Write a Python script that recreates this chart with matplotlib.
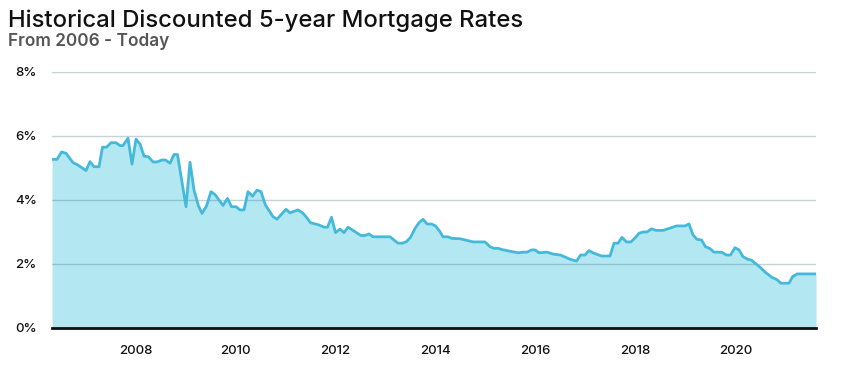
import matplotlib.pyplot as plt
from matplotlib.ticker import FixedLocator

# Discounted 5-year mortgage rate (decimal year, %)
dates = [2006.33, 2006.43, 2006.52, 2006.61, 2006.75, 2006.85, 2007.01, 2007.09,
         2007.17, 2007.27, 2007.34, 2007.42, 2007.51, 2007.61, 2007.69, 2007.75,
         2007.85, 2007.93, 2008.01, 2008.09, 2008.17, 2008.26, 2008.35, 2008.43,
         2008.53, 2008.60, 2008.69, 2008.77, 2008.84, 2009.01, 2009.09, 2009.17,
         2009.26, 2009.33, 2009.42, 2009.51, 2009.59, 2009.75, 2009.84, 2009.92,
         2010.01, 2010.09, 2010.17, 2010.25, 2010.34, 2010.43, 2010.51, 2010.60,
         2010.75, 2010.83, 2011.01, 2011.09, 2011.25, 2011.34, 2011.42, 2011.50,
         2011.67, 2011.77, 2011.84, 2011.92, 2012.00, 2012.09, 2012.17, 2012.25,
         2012.34, 2012.51, 2012.59, 2012.67, 2012.75, 2013.09, 2013.25, 2013.34,
         2013.42, 2013.50, 2013.59, 2013.67, 2013.75, 2013.83, 2013.92, 2014.00,
         2014.09, 2014.15, 2014.25, 2014.33, 2014.49, 2014.65, 2014.75, 2014.99,
         2015.09, 2015.17, 2015.25, 2015.33, 2015.49, 2015.65, 2015.75, 2015.83,
         2015.92, 2015.99, 2016.07, 2016.23, 2016.35, 2016.50, 2016.69, 2016.82,
         2016.90, 2016.99, 2017.07, 2017.15, 2017.32, 2017.49, 2017.57, 2017.65,
         2017.73, 2017.82, 2017.91, 2018.00, 2018.07, 2018.15, 2018.23, 2018.32,
         2018.41, 2018.55, 2018.65, 2018.82, 2018.99, 2019.07, 2019.15, 2019.23,
         2019.32, 2019.40, 2019.49, 2019.57, 2019.72, 2019.82, 2019.90, 2019.99,
         2020.07, 2020.15, 2020.24, 2020.32, 2020.49, 2020.59, 2020.73, 2020.82,
         2020.91, 2021.07, 2021.14, 2021.23, 2021.61]
rates = [5.27, 5.27, 5.50, 5.46, 5.17, 5.09, 4.92, 5.20,
         5.04, 5.04, 5.65, 5.65, 5.79, 5.79, 5.70, 5.70,
         5.93, 5.12, 5.90, 5.75, 5.37, 5.35, 5.19, 5.19,
         5.25, 5.25, 5.15, 5.42, 5.42, 3.79, 5.18, 4.31,
         3.81, 3.58, 3.81, 4.26, 4.17, 3.83, 4.05, 3.79,
         3.79, 3.69, 3.69, 4.26, 4.12, 4.31, 4.26, 3.84,
         3.48, 3.40, 3.71, 3.60, 3.69, 3.60, 3.46, 3.29,
         3.22, 3.15, 3.15, 3.46, 2.98, 3.09, 2.98, 3.15,
         3.06, 2.89, 2.89, 2.94, 2.85, 2.85, 2.65, 2.65,
         2.70, 2.83, 3.11, 3.29, 3.40, 3.25, 3.25, 3.19,
         3.01, 2.85, 2.85, 2.80, 2.79, 2.73, 2.69, 2.69,
         2.54, 2.49, 2.49, 2.45, 2.40, 2.35, 2.37, 2.37,
         2.44, 2.44, 2.35, 2.37, 2.31, 2.28, 2.15, 2.09,
         2.28, 2.28, 2.42, 2.35, 2.25, 2.25, 2.65, 2.65,
         2.83, 2.69, 2.69, 2.83, 2.96, 3.00, 3.00, 3.10,
         3.05, 3.05, 3.10, 3.19, 3.19, 3.25, 2.91, 2.77,
         2.75, 2.54, 2.48, 2.37, 2.37, 2.28, 2.28, 2.51,
         2.44, 2.23, 2.15, 2.12, 1.90, 1.75, 1.58, 1.52,
         1.40, 1.40, 1.60, 1.69, 1.69]

year_ticks = [2008, 2010, 2012, 2014, 2016, 2018, 2020]
pct_ticks = [0, 2, 4, 6, 8]

plt.rcParams['font.family'] = ['Inter', 'DejaVu Sans']

fig = plt.figure(figsize=(8.45, 3.73), dpi=100)
ax = fig.add_axes([52 / 845, 1 - 328 / 373, 764 / 845, 256 / 373])

ax.fill_between(dates, rates, 0, color='#b3e8f2', linewidth=0, zorder=1)
ax.plot(dates, rates, color='#45b9d9', linewidth=2, zorder=3)

ax.set_xlim(dates[0], dates[-1])
ax.set_ylim(0, 8)
ax.xaxis.set_major_locator(FixedLocator(year_ticks))
ax.yaxis.set_major_locator(FixedLocator(pct_ticks))
ax.set_yticklabels([f'{p}%' for p in pct_ticks])
ax.tick_params(axis='both', length=0, labelsize=9.5, labelcolor='#111111')
ax.tick_params(axis='y', pad=11)
ax.tick_params(axis='x', pad=12)
for lbl in ax.get_xticklabels() + ax.get_yticklabels():
    lbl.set_fontweight('medium')

# grid sits over the fill, translucent so it darkens inside the area
ax.set_axisbelow(False)
ax.grid(axis='y', color='#22576a', alpha=0.26, linewidth=1, zorder=2)
ax.grid(axis='x', visible=False)
for s in ['top', 'right', 'left']:
    ax.spines[s].set_visible(False)
ax.spines['bottom'].set_color('#111111')
ax.spines['bottom'].set_linewidth(2)
ax.spines['bottom'].set_zorder(4)

fig.text(8 / 845, 1 - 27 / 373, 'Historical Discounted 5-year Mortgage Rates',
         fontsize=17.2, fontweight='medium', color='#111111')
fig.text(8 / 845, 1 - 46 / 373, 'From 2006 - Today',
         fontsize=12.4, fontweight='semibold', color='#555555')

fig.savefig('out.png', dpi=100)
